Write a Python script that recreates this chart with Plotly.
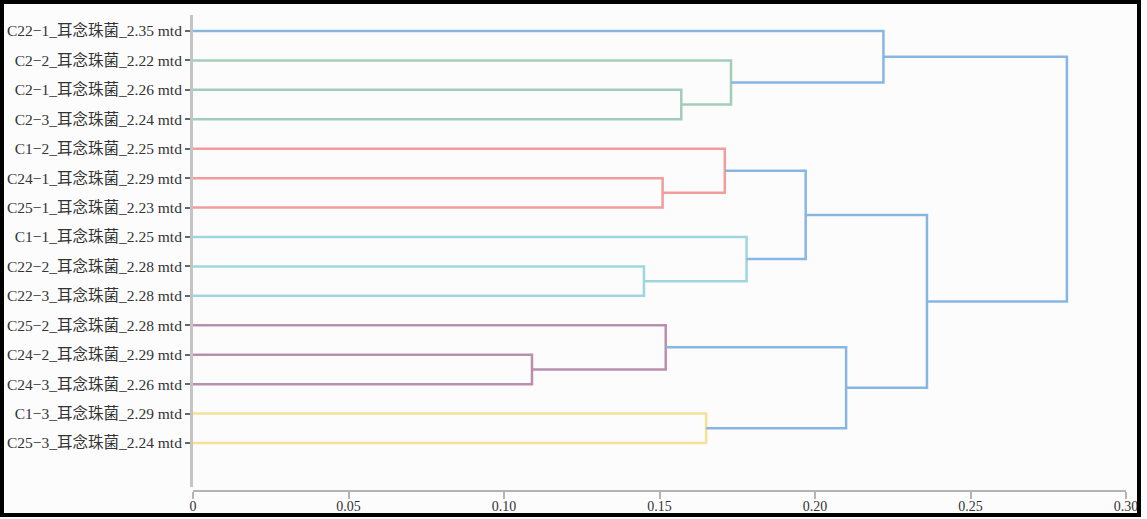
import plotly.graph_objects as go

# ---- data ----
leaf_labels = [
    "C22−1_耳念珠菌_2.35 mtd",
    "C2−2_耳念珠菌_2.22 mtd",
    "C2−1_耳念珠菌_2.26 mtd",
    "C2−3_耳念珠菌_2.24 mtd",
    "C1−2_耳念珠菌_2.25 mtd",
    "C24−1_耳念珠菌_2.29 mtd",
    "C25−1_耳念珠菌_2.23 mtd",
    "C1−1_耳念珠菌_2.25 mtd",
    "C22−2_耳念珠菌_2.28 mtd",
    "C22−3_耳念珠菌_2.28 mtd",
    "C25−2_耳念珠菌_2.28 mtd",
    "C24−2_耳念珠菌_2.29 mtd",
    "C24−3_耳念珠菌_2.26 mtd",
    "C1−3_耳念珠菌_2.29 mtd",
    "C25−3_耳念珠菌_2.24 mtd",
]
# merges: new cluster ids start at len(leaf_labels)
merge_left = [2, 1, 0, 5, 4, 8, 7, 19, 11, 10, 13, 24, 22, 17]
merge_right = [3, 15, 16, 6, 18, 9, 20, 21, 12, 23, 14, 25, 26, 27]
merge_height = [0.157, 0.173, 0.222, 0.151, 0.171, 0.145, 0.178, 0.197,
                0.109, 0.152, 0.165, 0.210, 0.236, 0.281]
merge_group = ["green", "green", "above", "red", "red", "cyan", "cyan", "above",
               "purple", "purple", "yellow", "above", "above", "above"]
x_tickvals = [0, 0.05, 0.10, 0.15, 0.20, 0.25, 0.30]
x_ticktext = ["0", "0.05", "0.10", "0.15", "0.20", "0.25", "0.30"]

# ---- style ----
group_color = {
    "above": "#88b6e3",
    "green": "#a2cdb8",
    "red": "#f29c9c",
    "cyan": "#9dd7dd",
    "purple": "#b98fac",
    "yellow": "#f5e096",
}
serif = "Liberation Serif, Times New Roman, Noto Sans CJK SC, serif"

n = len(leaf_labels)
pos = {i: float(i) for i in range(n)}
hgt = {i: 0.0 for i in range(n)}

fig = go.Figure()
for k, (a, b, h, g) in enumerate(zip(merge_left, merge_right, merge_height, merge_group)):
    cid = n + k
    xa, ya = hgt[a], pos[a]
    xb, yb = hgt[b], pos[b]
    fig.add_trace(go.Scatter(
        x=[xa, h, h, xb], y=[ya, ya, yb, yb], mode="lines",
        line=dict(color=group_color[g], width=2.5),
        hoverinfo="skip", showlegend=False))
    pos[cid] = (ya + yb) / 2
    hgt[cid] = h

# geometry (pixels)
W, H = 1147, 519
plot_l, plot_r = 191, 1126
plot_t, plot_b = 15, 491
yax_bottom = 487
x_start = 193
pw = plot_r - plot_l
ph = plot_b - plot_t

bg = "#fcfcfc"
fig.update_layout(
    width=W, height=H, autosize=False, showlegend=False,
    margin=dict(l=plot_l, r=W - plot_r, t=plot_t, b=H - plot_b, autoexpand=False),
    paper_bgcolor=bg,
    plot_bgcolor=bg,
    xaxis=dict(
        domain=[(x_start - plot_l) / pw, 1],
        range=[0, 0.30],
        tickvals=x_tickvals, ticktext=x_ticktext,
        showgrid=False, zeroline=False, automargin=False,
        showline=True, linecolor="#b4b4b4", linewidth=2,
        ticks="outside", ticklen=7, tickwidth=1.5, tickcolor="#b4b4b4",
        tickfont=dict(family=serif, size=14, color="#333333"),
        ticklabelstandoff=-5,
        anchor="free", position=0,
    ),
    yaxis=dict(
        domain=[(plot_b - yax_bottom) / ph, 1],
        range=[14 + (yax_bottom - 443) / 29.43, -(31 - plot_t) / 29.43],
        tickvals=list(range(n)), ticktext=leaf_labels,
        showgrid=False, zeroline=False, automargin=False,
        showline=True, linecolor="#c4c4c4", linewidth=3,
        ticks="outside", ticklen=5, tickwidth=2, tickcolor="#666666",
        tickfont=dict(family=serif, size=15.5, color="#333333"),
        anchor="free", position=0,
    ),
)

# black frame around the whole picture
fig.add_shape(
    type="rect", xref="paper", yref="paper",
    x0=(2 - plot_l) / pw, x1=(1139 - plot_l) / pw,
    y0=(plot_b - 515) / ph, y1=(plot_b - 2) / ph,
    line=dict(color="#000000", width=4), fillcolor="rgba(0,0,0,0)", layer="above",
)

fig.write_html(
    "out.html",
    config={"responsive": False, "displayModeBar": False},
    post_script="document.body.style.margin='0';document.body.style.overflow='hidden';document.body.style.background='#ffffff';",
)
